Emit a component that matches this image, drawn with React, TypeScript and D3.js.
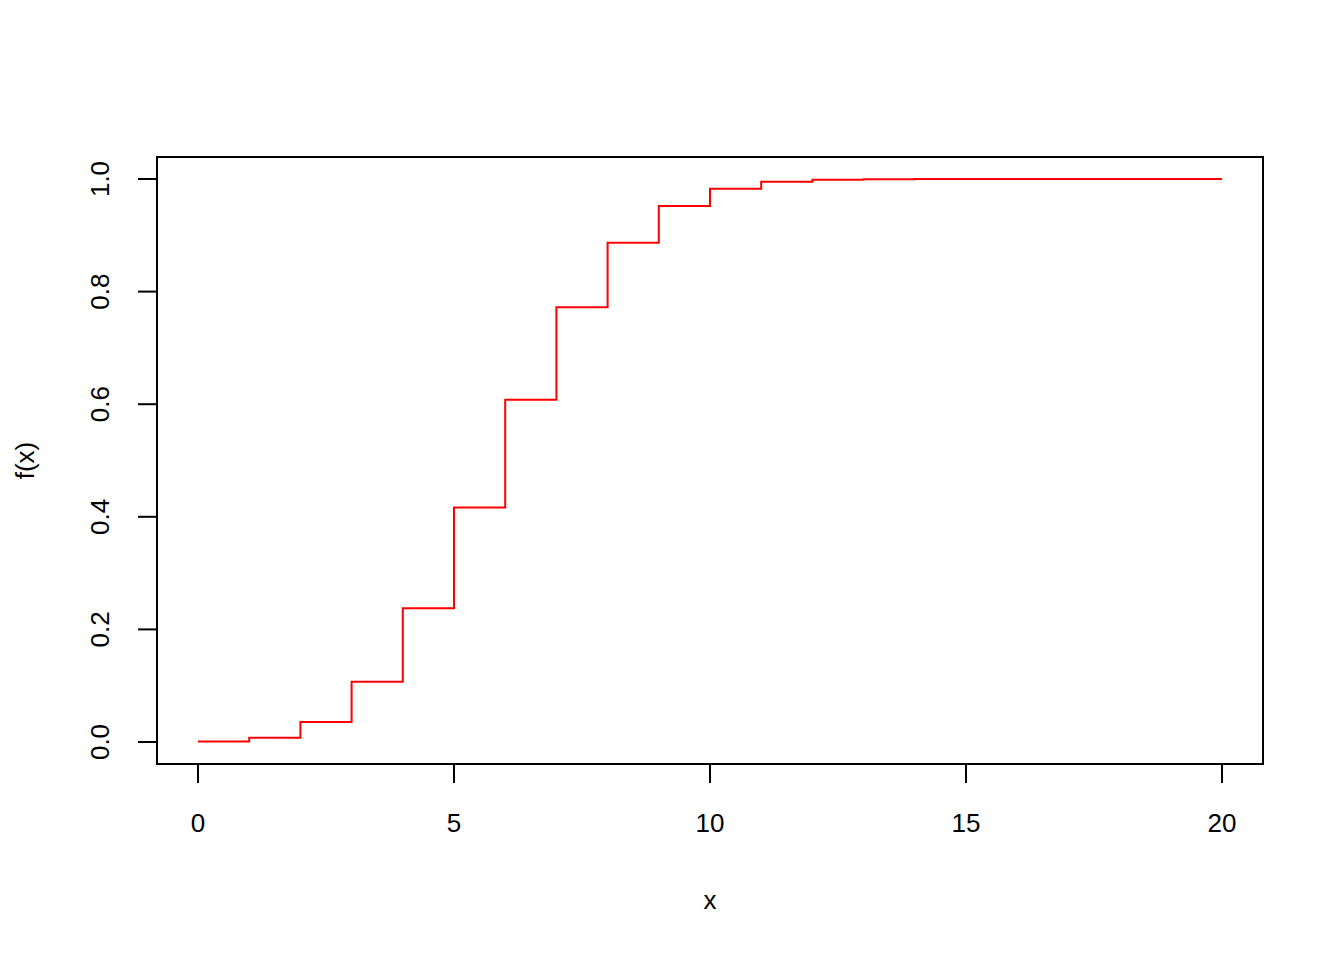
import React from "react";
import * as d3 from "d3";

const xs = [0, 1, 2, 3, 4, 5, 6, 7, 8, 9, 10, 11, 12, 13, 14, 15, 16, 17, 18, 19, 20];
const ys = [0.0008, 0.0076, 0.0355, 0.1071, 0.2375, 0.4164, 0.6080, 0.7723, 0.8867, 0.9520, 0.9829, 0.9949, 0.9987, 0.9997, 1.0, 1.0, 1.0, 1.0, 1.0, 1.0, 1.0];
const xTicks = [0, 5, 10, 15, 20];
const yTicks = [0, 0.2, 0.4, 0.6, 0.8, 1.0];

export default function App() {
  const W = 1344, H = 960;
  const box = { l: 157, r: 1263, t: 157, b: 764 };
  const x = d3.scaleLinear().domain([0, 20]).range([198, 1222]);
  const y = d3.scaleLinear().domain([0, 1]).range([742, 179]);
  const pts: [number, number][] = xs.map((v, i) => [v, ys[i]]);
  const line = d3.line<[number, number]>().x(d => x(d[0])).y(d => y(d[1])).curve(d3.curveStepAfter);
  const font = "Liberation Sans, Arial, sans-serif";
  const fs = 26;
  return (
    <svg width={W} height={H} style={{ position: "absolute", left: 0, top: 0, background: "#fff" }}>
      <rect x={0} y={0} width={W} height={H} fill="#fff" />
      <path d={line(pts) || ""} fill="none" stroke="#ff0000" strokeWidth={2} />
      <rect x={box.l} y={box.t} width={box.r - box.l} height={box.b - box.t} fill="none" stroke="#000" strokeWidth={2} />
      {xTicks.map(t => (
        <g key={"x" + t}>
          <line x1={x(t)} x2={x(t)} y1={box.b} y2={box.b + 19} stroke="#000" strokeWidth={2} />
          <text x={x(t)} y={832} textAnchor="middle" fontFamily={font} fontSize={fs}>{t}</text>
        </g>
      ))}
      {yTicks.map(t => (
        <g key={"y" + t}>
          <line x1={box.l} x2={box.l - 19} y1={y(t)} y2={y(t)} stroke="#000" strokeWidth={2} />
          <text transform={`translate(109,${y(t)}) rotate(-90)`} textAnchor="middle" fontFamily={font} fontSize={fs}>{t.toFixed(1)}</text>
        </g>
      ))}
      <text x={(box.l + box.r) / 2} y={909} textAnchor="middle" fontFamily={font} fontSize={fs}>x</text>
      <text transform={`translate(34,${(box.t + box.b) / 2}) rotate(-90)`} textAnchor="middle" fontFamily={font} fontSize={fs}>f(x)</text>
    </svg>
  );
}
